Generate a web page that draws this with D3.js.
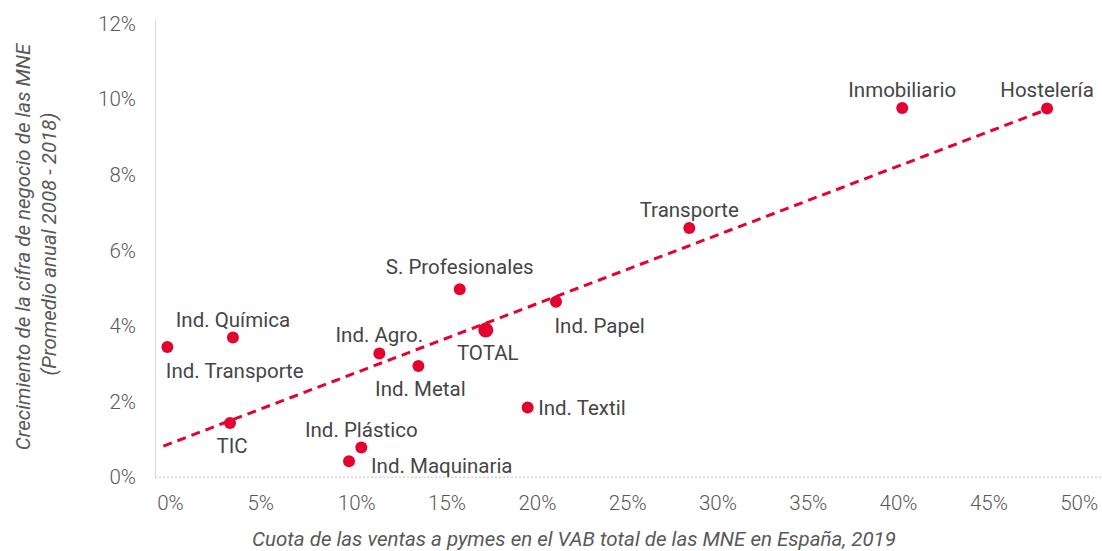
<!DOCTYPE html>
<html><head><meta charset="utf-8">
<script src="https://cdn.jsdelivr.net/npm/d3@7"></script>
<style>
html,body{margin:0;padding:0;background:#fff;}
svg{display:block;font-family:Roboto, "Noto Sans", sans-serif;}
</style></head>
<body><svg id="chart" width="1102" height="551"></svg>
<script>
// Data
const sectors = ["Ind. Transporte","Ind. Química","TIC","Ind. Maquinaria","Ind. Plástico","Ind. Agro.","Ind. Metal","S. Profesionales","TOTAL","Ind. Textil","Ind. Papel","Transporte","Inmobiliario","Hostelería"];
const shareSMEs = [0.59, 4.22, 4.06, 10.65, 11.33, 12.33, 14.49, 16.78, 18.22, 20.54, 22.11, 29.49, 41.28, 49.30];
const growth    = [3.43, 3.68, 1.42, 0.41, 0.77, 3.26, 2.93, 4.96, 3.88, 1.83, 4.63, 6.58, 9.75, 9.74];
const labelPlacement = ["belowStart","above","below","rightLow","above","above","below","aboveFar","below","right","belowStart","above","above","above"];
const trendX = [0.37, 49.0];
const trendY = [0.81, 9.66];
const xTicks = [0,5,10,15,20,25,30,35,40,45,50];
const yTicks = [0,2,4,6,8,10,12];
const xTitle = "Cuota de las ventas a pymes en el VAB total de las MNE en España, 2019";
const yTitle1 = "Crecimiento de la cifra de negocio de las MNE";
const yTitle2 = "(Promedio anual 2008 - 2018)";

const svg = d3.select("#chart");
const x = d3.scaleLinear().domain([0,50]).range([156.7,1059.7]);
const y = d3.scaleLinear().domain([0,12]).range([476.7,23]);
const red = "#E4032E";
const textCol = "#454545";
const tickCol = "#595959";

// Y axis line
svg.append("line").attr("x1",155.5).attr("x2",155.5).attr("y1",20).attr("y2",y(0))
  .attr("stroke","#D9D9D9").attr("stroke-width",1);
// zero gridline dashed
svg.append("line").attr("x1",155).attr("x2",1102).attr("y1",y(0)+0.5).attr("y2",y(0)+0.5)
  .attr("stroke","#BFBFBF").attr("stroke-width",1).attr("stroke-dasharray","2,2");

// Y axis ticks
const yAxis = d3.axisLeft(y).tickValues(yTicks).tickFormat(d=>d+"%").tickSize(0).tickPadding(0);
const gy = svg.append("g").attr("transform","translate(136,0)").call(yAxis);
gy.select(".domain").remove();
gy.selectAll("text").attr("fill",tickCol).attr("font-size",20.5).attr("font-family","Roboto").attr("font-weight",300).attr("dy","0.35em");

// X axis ticks (labels start at tick)
const xAxis = d3.axisBottom(x).tickValues(xTicks).tickFormat(d=>d+"%").tickSize(0).tickPadding(0);
const gx = svg.append("g").attr("transform","translate(0,495)").call(xAxis);
gx.select(".domain").remove();
gx.selectAll("text").attr("fill",tickCol).attr("font-size",20.5).attr("font-family","Roboto").attr("font-weight",300)
  .attr("text-anchor","start").attr("dy","0.71em");

// Trend line
svg.append("line")
  .attr("x1",x(trendX[0])).attr("y1",y(trendY[0]))
  .attr("x2",x(trendX[1])).attr("y2",y(trendY[1]))
  .attr("stroke",red).attr("stroke-width",3).attr("stroke-dasharray","9,6");

// Points
const data = sectors.map((s,i)=>({name:s,x:shareSMEs[i],y:growth[i],pos:labelPlacement[i]}));
svg.append("g").selectAll("circle").data(data).join("circle")
  .attr("cx",d=>x(d.x)).attr("cy",d=>y(d.y))
  .attr("r",d=>d.name==="TOTAL"?7.5:6)
  .attr("fill",red);

// Labels
const place = {
  above:{dx:0,dy:-18,anchor:"middle"},
  aboveFar:{dx:0,dy:-22.5,anchor:"middle"},
  below:{dx:2,dy:23,anchor:"middle"},
  belowStart:{dx:-1.5,dy:24,anchor:"start"},
  right:{dx:10.5,dy:0,anchor:"start"},
  rightLow:{dx:22,dy:5,anchor:"start"}
};
svg.append("g").selectAll("text").data(data).join("text")
  .attr("x",d=>x(d.x)+place[d.pos].dx)
  .attr("y",d=>y(d.y)+place[d.pos].dy+7)
  .attr("text-anchor",d=>place[d.pos].anchor)
  .attr("font-size",20.5).attr("fill",textCol)
  .text(d=>d.name);

// Axis titles
svg.append("text").attr("x",574).attr("y",546).attr("text-anchor","middle")
  .attr("font-style","italic").attr("font-size",20.5).attr("fill",tickCol).text(xTitle);
svg.append("text").attr("transform","translate(30,247) rotate(-90)").attr("text-anchor","middle")
  .attr("font-style","italic").attr("font-size",20.5).attr("fill",tickCol).text(yTitle1);
svg.append("text").attr("transform","translate(56,244) rotate(-90)").attr("text-anchor","middle")
  .attr("font-style","italic").attr("font-size",20.5).attr("fill",tickCol).text(yTitle2);
</script>
</body></html>
